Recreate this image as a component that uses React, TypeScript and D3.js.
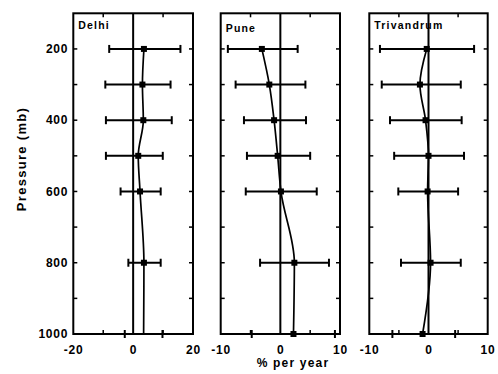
import React from "react";
import * as d3 from "d3";

const pressures = [200, 300, 400, 500, 600, 800, 1000];

const delhiValue = [3.6, 3.1, 3.4, 1.7, 2.3, 3.6, 3.5];
const delhiLow = [-8.0, -9.3, -9.1, -9.1, -4.2, -1.6, -2.8];
const delhiHigh = [15.8, 12.5, 12.9, 9.9, 9.2, 9.2, 9.8];
const delhiMarker = [true, true, true, true, true, true, false];

const puneValue = [-3.1, -1.85, -1.05, -0.45, 0.1, 2.35, 2.2];
const puneLow = [-8.8, -7.5, -6.1, -5.6, -5.8, -3.4, -4.8];
const puneHigh = [2.9, 4.2, 4.3, 5.0, 6.1, 8.15, 9.15];
const puneMarker = [true, true, true, true, true, true, true];

const trivValue = [-0.3, -1.45, -0.5, 0.0, -0.15, 0.35, -1.0];
const trivLow = [-8.2, -7.9, -6.5, -5.8, -5.1, -4.65, -6.1];
const trivHigh = [7.7, 5.45, 5.6, 6.0, 5.0, 5.45, 4.5];
const trivMarker = [true, true, true, true, true, true, true];

const yTicksMajor = [200, 400, 600, 800, 1000];
const yTicksAll = [200, 300, 400, 500, 600, 700, 800, 900, 1000];

const delhiXTicks = [-20, 0, 20];
const delhiXMinor = [-10, 10];
const smallXTicks = [-10, 0, 10];
const smallXMinor = [-5, 5];

const FONT = "'Liberation Sans', Arial, Helvetica, sans-serif";

const yScale = d3.scaleLinear().domain([100, 1000]).range([13.3, 334]);

type PanelProps = {
  name: string;
  x0: number;
  x1: number;
  domain: [number, number];
  ticks: number[];
  minor: number[];
  value: number[];
  low: number[];
  high: number[];
  marker: boolean[];
  titleY: number;
  showYLabels: boolean;
};

function Panel(p: PanelProps) {
  const x = d3.scaleLinear().domain(p.domain).range([p.x0, p.x1]);
  const top = yScale.range()[0];
  const bot = yScale.range()[1];
  const pts: [number, number][] = pressures.map((pr, i) => [x(p.value[i]), yScale(pr)]);
  const line = d3
    .line<[number, number]>()
    .x((d) => d[0])
    .y((d) => d[1])
    .curve(d3.curveMonotoneY);
  const tl = 4;
  const cap = 4;
  const ms = 6;
  return (
    <g>
      <line x1={x(0)} x2={x(0)} y1={top} y2={bot} stroke="#000" strokeWidth={2} />
      {yTicksAll.map((t) => (
        <g key={"yt" + t}>
          <line x1={p.x0} x2={p.x0 + tl} y1={yScale(t)} y2={yScale(t)} stroke="#000" strokeWidth={1.5} />
          <line x1={p.x1} x2={p.x1 - tl} y1={yScale(t)} y2={yScale(t)} stroke="#000" strokeWidth={1.5} />
        </g>
      ))}
      {p.minor.map((t) => (
        <g key={"xm" + t}>
          <line x1={x(t)} x2={x(t)} y1={top} y2={top + tl} stroke="#000" strokeWidth={1.5} />
          <line x1={x(t)} x2={x(t)} y1={bot} y2={bot - tl} stroke="#000" strokeWidth={1.5} />
        </g>
      ))}
      {pressures.map((pr, i) => {
        const y = yScale(pr);
        return (
          <g key={"eb" + pr} stroke="#000" strokeWidth={2}>
            <line x1={x(p.low[i])} x2={x(p.high[i])} y1={y} y2={y} />
            <line x1={x(p.low[i])} x2={x(p.low[i])} y1={y - cap} y2={y + cap} />
            <line x1={x(p.high[i])} x2={x(p.high[i])} y1={y - cap} y2={y + cap} />
          </g>
        );
      })}
      <path d={line(pts) || ""} fill="none" stroke="#000" strokeWidth={1.7} />
      {pressures.map((pr, i) =>
        p.marker[i] ? (
          <rect
            key={"mk" + pr}
            x={x(p.value[i]) - ms / 2}
            y={yScale(pr) - ms / 2}
            width={ms}
            height={ms}
            fill="#000"
          />
        ) : null
      )}
      <rect x={p.x0} y={top} width={p.x1 - p.x0} height={bot - top} fill="none" stroke="#000" strokeWidth={2} />
      <text
        x={p.x0 + 5}
        y={p.titleY}
        fontFamily={FONT}
        fontWeight="bold"
        fontSize={10.5}
        letterSpacing={1.2}
      >
        {p.name}
      </text>
      {p.ticks.map((t) => (
        <text
          key={"xl" + t}
          x={x(t) + 0.4}
          y={353.5}
          textAnchor="middle"
          fontFamily={FONT}
          fontWeight="bold"
          fontSize={12}
          letterSpacing={0.8}
        >
          {t}
        </text>
      ))}
      {p.showYLabels &&
        yTicksMajor.map((t) => (
          <text
            key={"yl" + t}
            x={p.x0 - 5}
            y={yScale(t) + 4.2}
            textAnchor="end"
            fontFamily={FONT}
            fontWeight="bold"
            fontSize={12}
            letterSpacing={0.8}
          >
            {t}
          </text>
        ))}
    </g>
  );
}

export default function App() {
  return (
    <svg width={498} height={374} style={{ position: "absolute", left: 0, top: 0, background: "#fff" }}>
      <rect x={0} y={0} width={498} height={374} fill="#fff" />
      <Panel
        name="Delhi"
        x0={73.3}
        x1={193}
        domain={[-20, 20]}
        ticks={delhiXTicks}
        minor={delhiXMinor}
        value={delhiValue}
        low={delhiLow}
        high={delhiHigh}
        marker={delhiMarker}
        titleY={29.3}
        showYLabels={true}
      />
      <Panel
        name="Pune"
        x0={220.7}
        x1={340}
        domain={[-10, 10]}
        ticks={smallXTicks}
        minor={smallXMinor}
        value={puneValue}
        low={puneLow}
        high={puneHigh}
        marker={puneMarker}
        titleY={31.5}
        showYLabels={false}
      />
      <Panel
        name="Trivandrum"
        x0={369.3}
        x1={487.7}
        domain={[-10, 10]}
        ticks={smallXTicks}
        minor={smallXMinor}
        value={trivValue}
        low={trivLow}
        high={trivHigh}
        marker={trivMarker}
        titleY={29.3}
        showYLabels={false}
      />
      <text
        x={293}
        y={366.5}
        textAnchor="middle"
        fontFamily={FONT}
        fontWeight="bold"
        fontSize={12}
        letterSpacing={1.2}
      >
        % per year
      </text>
      <text
        transform="translate(25.5,159) rotate(-90)"
        textAnchor="middle"
        fontFamily={FONT}
        fontWeight="bold"
        fontSize={13}
        letterSpacing={1.3}
      >
        Pressure (mb)
      </text>
    </svg>
  );
}
